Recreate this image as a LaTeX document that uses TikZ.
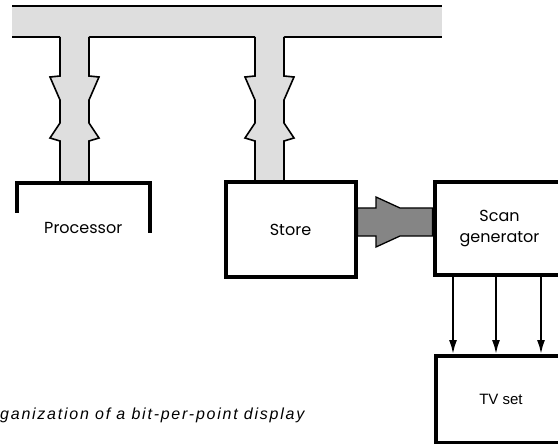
\documentclass[tikz,border=0pt]{standalone}
\usepackage{fontspec}
\setmainfont{Liberation Sans}
\newfontfamily\blockfont{Poppins}
\newfontfamily\capfont[LetterSpace=11]{Liberation Sans}
\usepackage{tikz}
\usetikzlibrary{positioning,arrows.meta}
\definecolor{busGray}{gray}{0.87}
\definecolor{flowGray}{gray}{0.52}
% one stem of the bus, centred at x=#1, with its two notches
\newcommand{\busstem}[1]{%
  \fill[busGray] (#1-14.5,36) -- (#1-14.5,76) -- (#1-24.5,77) -- (#1-14.5,100) -- (#1-14.5,123) -- (#1-24.5,138) -- (#1-14.5,141) -- (#1-14.5,182)
    -- (#1+14.5,182) -- (#1+14.5,141) -- (#1+24.5,138) -- (#1+14.5,123) -- (#1+14.5,100) -- (#1+24.5,77) -- (#1+14.5,76) -- (#1+14.5,36) -- cycle;
  \draw[busline] (#1-14.5,37) -- (#1-14.5,76) -- (#1-24.5,77) -- (#1-14.5,100) -- (#1-14.5,123) -- (#1-24.5,138) -- (#1-14.5,141) -- (#1-14.5,182)
    (#1+14.5,37) -- (#1+14.5,76) -- (#1+24.5,77) -- (#1+14.5,100) -- (#1+14.5,123) -- (#1+24.5,138) -- (#1+14.5,141) -- (#1+14.5,182);}

\begin{document}
\begin{tikzpicture}[
  x=1pt,y=-1pt,
  busline/.style={line width=1.6pt},
  box/.style={draw,line width=4pt,align=center,anchor=north west,font=\blockfont\fontsize{16}{21}\selectfont},
  tvbox/.style={box,font=\fontsize{15}{18}\selectfont},
  flowline/.style={line width=1.3pt,fill=flowGray},
  arr/.style={-{Latex[length=14pt,width=8pt]},line width=2pt},
  caption/.style={font=\capfont\itshape\fontsize{16}{18}\selectfont,anchor=base west,inner sep=0pt}
]
\useasboundingbox (0,0) rectangle (558,444);
\clip (0,0) rectangle (558,444);

% bus
\fill[busGray] (12,6) rectangle (442,37);
\draw[busline] (12,6) -- (442,6);
\draw[busline] (12,37) -- (60,37) (89,37) -- (255,37) (284,37) -- (442,37);
\busstem{74.5}
\busstem{269.5}

% blocks
\node[box,draw=none,minimum width=128.5,minimum height=86] (proc) at (17,183) {Processor};
\draw[line width=4pt] ([yshift=-30pt]proc.north west) -- (proc.north west) -- (proc.north east) -- ([yshift=-50pt]proc.north east);
\node[box,minimum width=130,minimum height=95] (store) at (223.5,180) {Store};
\node[box,minimum width=130,minimum height=93] (scan) at (432.5,180) {Scan\\generator};
\node[tvbox,minimum width=130,minimum height=87] (tv) at (434,354) {TV set};

% data path store -> scan generator
\coordinate (shaftTop) at (0,208);
\coordinate (shaftBot) at (0,236);
\filldraw[flowline] (store.east |- shaftTop) -- (376,208) -- (376,197) -- (400,208) -- (scan.west |- shaftTop)
  -- (scan.west |- shaftBot) -- (400,236) -- (376,247) -- (376,236) -- (store.east |- shaftBot) -- cycle;

% video lines
\foreach \x in {453,496,541} {
  \coordinate (tap) at (\x,0);
  \draw[arr] (scan.south -| tap) -- (tv.north -| tap);
}

\node[caption] (cap) at (0,419) {ganization of a bit-per-point display};
\end{tikzpicture}
\end{document}
